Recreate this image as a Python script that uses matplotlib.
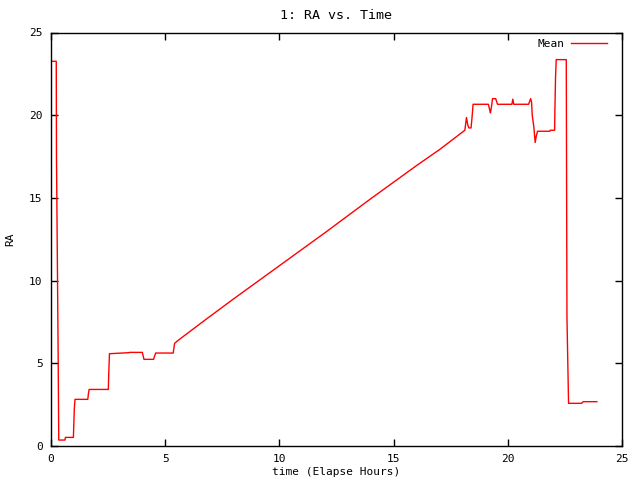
"""Recreate the gnuplot-style 'RA vs. Time' chart."""

import matplotlib

matplotlib.use("Agg")
import matplotlib.pyplot as plt

# elapsed hours and mean RA
time_hours = [
    0.0, 0.23, 0.24, 0.31, 0.34, 0.61, 0.63, 0.98, 1.02, 1.05, 1.61, 1.64, 1.67,
    2.51, 2.53, 2.56, 3.38, 3.45, 4.00, 4.07, 4.49, 4.58, 5.35, 5.41, 5.54,
    6.73, 8.0, 10.0, 12.0, 14.0, 16.0, 17.02, 18.12, 18.19, 18.25, 18.30,
    18.39, 18.43, 18.48, 19.15, 19.21, 19.24, 19.30, 19.33, 19.47, 19.55,
    20.18, 20.22, 20.26, 20.91, 21.00, 21.04, 21.07, 21.14, 21.20, 21.24,
    21.30, 21.84, 21.86, 22.05, 22.06, 22.09, 22.12, 22.56, 22.57, 22.59,
    22.66, 23.23, 23.30, 23.90,
]
ra_mean = [
    23.26, 23.26, 17.5, 6.06, 0.36, 0.36, 0.52, 0.52, 2.23, 2.82, 2.82, 3.18, 3.42,
    3.42, 4.45, 5.58, 5.64, 5.66, 5.66, 5.24, 5.24, 5.62, 5.62, 6.2, 6.36,
    7.6, 8.9, 10.9, 12.9, 14.95, 16.95, 17.93, 19.09, 19.86, 19.4, 19.23,
    19.23, 19.8, 20.66, 20.66, 20.3, 20.14, 20.66, 21.0, 21.0, 20.66,
    20.66, 20.97, 20.66, 20.66, 21.0, 20.8, 20.0, 19.29, 18.35, 18.69,
    19.03, 19.03, 19.09, 19.09, 20.1, 22.3, 23.36, 23.36, 18.19, 7.81,
    2.58, 2.58, 2.68, 2.68,
]

x_ticks = [0, 5, 10, 15, 20, 25]
y_ticks = [0, 5, 10, 15, 20, 25]

plt.rcParams["font.family"] = ["DejaVu Sans Mono"]
plt.rcParams["font.size"] = 8

fig = plt.figure(figsize=(6.4, 4.8), dpi=100)
ax = fig.add_axes([51 / 640, 34 / 480, 571 / 640, 413.5 / 480])

ax.plot(time_hours, ra_mean, color="#ff0000", linewidth=1.0, label="Mean")

ax.set_xlim(0, 25)
ax.set_ylim(0, 25)
ax.set_xticks(x_ticks)
ax.set_yticks(y_ticks)
ax.tick_params(direction="in", length=5, width=1, top=True, right=True, pad=6)
for spine in ax.spines.values():
    spine.set_linewidth(1)

ax.set_title("1: RA vs. Time", pad=10)
ax.set_xlabel("time (Elapse Hours)", labelpad=2)
ax.set_ylabel("RA", labelpad=10)

ax.legend(
    loc="upper right",
    bbox_to_anchor=(0.981, 0.996),
    frameon=False,
    markerfirst=False,
    handlelength=3.2,
    handletextpad=0.6,
    borderaxespad=0,
)

fig.savefig("out.png", dpi=100)
plt.close(fig)
